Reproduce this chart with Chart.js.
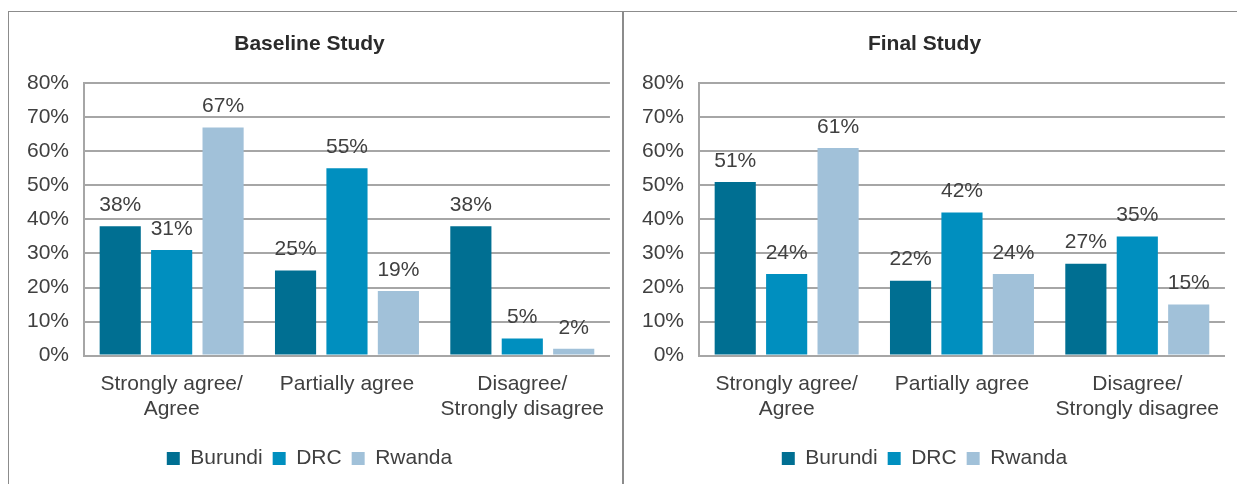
<!DOCTYPE html>
<html>
<head>
<meta charset="utf-8">
<script src="https://cdn.jsdelivr.net/npm/chart.js@4/dist/chart.umd.min.js"></script>
<style>
    body { margin: 0; background: #fff; width: 1237px; height: 484px; overflow: hidden; position: relative; }
    .panel { position: absolute; top: 11px; width: 613px; height: 480px; border-top: 1px solid #8c8c8c; border-left: 1px solid #8c8c8c; }
    #p1 { left: 8px; border-right: 1px solid #8c8c8c; }
    #p2 { left: 623px; }
    canvas { display: block; }
</style>
</head>
<body>
<div class="panel" id="p1"><canvas id="baseline" width="613" height="472"></canvas></div>
<div class="panel" id="p2"><canvas id="final" width="613" height="472"></canvas></div>
<script>
var categories = [['Strongly agree/', 'Agree'], 'Partially agree', ['Disagree/', 'Strongly disagree']];
var countries = ['Burundi', 'DRC', 'Rwanda'];
var countryColors = ['#006F92', '#008FBF', '#A1C1D9'];

var baselineBurundi = [38, 25, 38];
var baselineDRC = [31, 55, 5];
var baselineRwanda = [67, 19, 2];

var finalBurundi = [51, 22, 27];
var finalDRC = [24, 42, 35];
var finalRwanda = [61, 24, 15];

Chart.defaults.font.family = '"Liberation Sans", Arial, sans-serif';
Chart.defaults.font.size = 21;
Chart.defaults.color = '#404040';

// draws the "38%" labels above each bar
var barLabels = {
    id: 'barLabels',
    afterDatasetsDraw: function (chart) {
        var ctx = chart.ctx;
        ctx.save();
        ctx.font = '21px "Liberation Sans", Arial, sans-serif';
        ctx.fillStyle = '#404040';
        ctx.textAlign = 'center';
        ctx.textBaseline = 'middle';
        chart.data.datasets.forEach(function (ds, i) {
            chart.getDatasetMeta(i).data.forEach(function (bar, j) {
                ctx.fillText(ds.data[j] + '%', bar.x, bar.y - 21);
            });
        });
        ctx.restore();
    }
};

function buildChart(id, title, burundi, drc, rwanda) {
    var series = [burundi, drc, rwanda];
    var datasets = [];
    for (var i = 0; i < countries.length; i++) {
        datasets.push({
            label: countries[i],
            data: series[i],
            backgroundColor: countryColors[i],
            categoryPercentage: 0.88,
            barPercentage: 0.8
        });
    }

    return new Chart(document.getElementById(id), {
        type: 'bar',
        data: {labels: categories, datasets: datasets},
        plugins: [barLabels],
        options: {
            responsive: false,
            animation: false,
            devicePixelRatio: 1,
            layout: {padding: {left: 0, right: 12, top: 0, bottom: 5}},
            plugins: {
                title: {
                    display: true,
                    text: title,
                    color: '#2b2b2b',
                    font: {size: 21, weight: 'bold'},
                    padding: {top: 20, bottom: 26}
                },
                legend: {
                    position: 'bottom',
                    labels: {boxWidth: 13, boxHeight: 13, padding: 10, color: '#404040'}
                },
                tooltip: {enabled: false}
            },
            scales: {
                x: {
                    grid: {display: false, drawTicks: false},
                    border: {display: true, color: '#a6a6a6', width: 2},
                    ticks: {padding: 16, color: '#404040'}
                },
                y: {
                    min: 0,
                    max: 80,
                    afterFit: function (scale) { scale.width = 75; },
                    grid: {color: '#a6a6a6', lineWidth: 2, drawTicks: false},
                    border: {display: true, color: '#a6a6a6', width: 2},
                    ticks: {
                        stepSize: 10,
                        padding: 15,
                        color: '#404040',
                        callback: function (v) { return v + '%'; }
                    }
                }
            }
        }
    });
}

buildChart('baseline', 'Baseline Study', baselineBurundi, baselineDRC, baselineRwanda);
buildChart('final', 'Final Study', finalBurundi, finalDRC, finalRwanda);
</script>
</body>
</html>
